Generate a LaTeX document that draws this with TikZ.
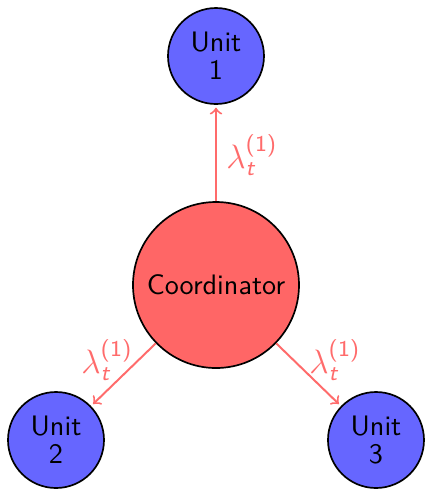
\documentclass[tikz,border=0pt]{standalone}
\usepackage{xcolor}
\usepackage{amsmath}
\usepackage{sansmath}
\definecolor{coordred}{HTML}{FF6666}
\definecolor{unitblue}{HTML}{6666FF}
\definecolor{arrowred}{HTML}{FF6B6B}
\newcommand{\lamlab}{$\lambda_{\textsf{\itshape t}}^{\textsf{(1)}}$}
\begin{document}
\begin{tikzpicture}[x=0.355pt,y=-0.355pt,
  coordbox/.style={circle,draw=black,semithick,fill=coordred,minimum size=166*0.355pt,inner sep=0pt,font=\sffamily},
  unitbox/.style={circle,draw=black,semithick,fill=unitblue,minimum size=96*0.355pt,inner sep=0pt,align=center,font=\sffamily},
  link/.style={->,draw=arrowred,line width=0.7pt,shorten >=1pt},
  lab/.style={text=arrowred,font=\large\sffamily\sansmath,anchor=center}]
\useasboundingbox (0,0) rectangle (426,492);
\node[coordbox] (c) at (216,285) {Coordinator};
\node[unitbox] (u1) at (216,56) {Unit\\[-2pt]1};
\node[unitbox] (u2) at (56,440) {Unit\\[-2pt]2};
\node[unitbox] (u3) at (376,440) {Unit\\[-2pt]3};
\draw[link] (c) -- node[lab,pos=0.5,xshift=12.8pt,yshift=-0.7pt] {\lamlab} (u1);
\draw[link] (c) -- node[lab,pos=0.5,xshift=-5.8pt,yshift=5.2pt] {\lamlab} (u2);
\draw[link] (c) -- node[lab,pos=0.5,xshift=9.4pt,yshift=5.2pt] {\lamlab} (u3);
\end{tikzpicture}
\end{document}
